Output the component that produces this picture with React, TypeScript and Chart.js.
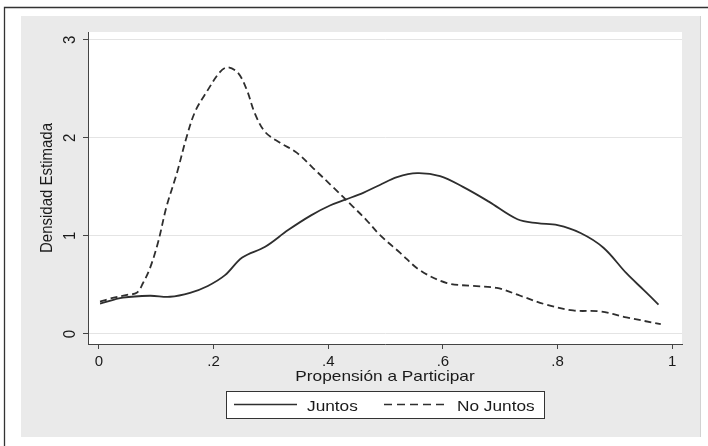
import React, { useEffect, useRef } from 'react';
import { Chart, registerables } from 'chart.js';

Chart.register(...registerables);

// ---- data ----
const juntosX = [0.002, 0.042, 0.089, 0.124, 0.159, 0.19, 0.22, 0.25, 0.29, 0.33, 0.37, 0.403, 0.43, 0.461, 0.49, 0.52, 0.555, 0.595, 0.635, 0.68, 0.73, 0.765, 0.8, 0.84, 0.88, 0.92, 0.95, 0.976];
const juntosY = [0.31, 0.37, 0.39, 0.38, 0.42, 0.49, 0.60, 0.78, 0.89, 1.06, 1.21, 1.31, 1.37, 1.44, 1.52, 1.60, 1.64, 1.61, 1.50, 1.35, 1.17, 1.13, 1.11, 1.03, 0.88, 0.62, 0.45, 0.30];
const noJuntosX = [0.002, 0.019, 0.049, 0.066, 0.077, 0.089, 0.103, 0.118, 0.136, 0.153, 0.168, 0.188, 0.211, 0.225, 0.243, 0.258, 0.272, 0.29, 0.316, 0.345, 0.374, 0.408, 0.443, 0.467, 0.49, 0.525, 0.56, 0.607, 0.653, 0.694, 0.735, 0.78, 0.827, 0.874, 0.92, 0.98];
const noJuntosY = [0.33, 0.36, 0.40, 0.42, 0.52, 0.67, 0.93, 1.30, 1.64, 2.01, 2.27, 2.47, 2.67, 2.72, 2.66, 2.49, 2.25, 2.06, 1.95, 1.85, 1.69, 1.50, 1.30, 1.16, 1.01, 0.83, 0.65, 0.52, 0.49, 0.47, 0.39, 0.30, 0.24, 0.23, 0.17, 0.10];

const xTickValues = [0, 0.2, 0.4, 0.6, 0.8, 1];
const xTickLabels = ['0', '.2', '.4', '.6', '.8', '1'];
const yTickValues = [0, 1, 2, 3];
const yTickLabels = ['0', '1', '2', '3'];
const seriesNames = ['Juntos', 'No Juntos'];
const xTitle = 'Propensión a Participar';
const yTitle = 'Densidad Estimada';

const FONT = '"Liberation Sans", Arial, sans-serif';
const INK = '#1a1a1a';
const LINE = '#2e2e2e';
const DASH = [7, 4];
const STRETCH = 1.15;

function hText(ctx: CanvasRenderingContext2D, text: string, x: number, y: number, align: CanvasTextAlign) {
  ctx.save();
  ctx.translate(x, y);
  ctx.scale(STRETCH, 1);
  ctx.textAlign = align;
  ctx.textBaseline = 'alphabetic';
  ctx.fillText(text, 0, 0);
  ctx.restore();
}

const framePlugin = {
  id: 'stataFrame',
  beforeDraw(chart: any) {
    const { ctx, chartArea: a } = chart;
    ctx.save();
    ctx.fillStyle = '#ffffff';
    ctx.fillRect(0, 0, chart.width, chart.height);
    ctx.fillStyle = '#eaeaea';
    ctx.fillRect(21, 16, 679, 421);
    ctx.strokeStyle = '#d2d2d2';
    ctx.lineWidth = 1;
    ctx.beginPath();
    ctx.moveTo(700.5, 16);
    ctx.lineTo(700.5, 437);
    ctx.stroke();
    ctx.strokeStyle = '#333';
    ctx.lineWidth = 1.3;
    ctx.beginPath();
    ctx.moveTo(4.5, 446);
    ctx.lineTo(4.5, 7.5);
    ctx.lineTo(708, 7.5);
    ctx.stroke();
    ctx.fillStyle = '#ffffff';
    ctx.fillRect(a.left, a.top, a.right - a.left, a.bottom - a.top);
    ctx.restore();
  },
  afterDraw(chart: any) {
    const { ctx, chartArea: a } = chart;
    const yScale = chart.scales.y;
    ctx.save();
    ctx.fillStyle = INK;
    ctx.font = `15px ${FONT}`;
    // rotated y tick labels
    yTickValues.forEach((v, i) => {
      const py = yScale.getPixelForValue(v);
      ctx.save();
      ctx.translate(70, py);
      ctx.rotate(-Math.PI / 2);
      ctx.scale(1, STRETCH);
      ctx.textAlign = 'center';
      ctx.textBaseline = 'middle';
      ctx.fillText(yTickLabels[i], 0, 0);
      ctx.restore();
    });
    // y title
    ctx.save();
    ctx.translate(48, (a.top + a.bottom) / 2);
    ctx.rotate(-Math.PI / 2);
    ctx.scale(1, 1.05);
    ctx.textAlign = 'center';
    ctx.textBaseline = 'middle';
    ctx.fillText(yTitle, 0, 0);
    ctx.restore();
    // x title
    const cx = (a.left + a.right) / 2;
    hText(ctx, xTitle, cx, 381, 'center');
    // legend
    const bx = cx - 159;
    const by = 391;
    ctx.fillStyle = '#ffffff';
    ctx.fillRect(bx, by, 318, 27);
    ctx.strokeStyle = '#333';
    ctx.lineWidth = 1;
    ctx.strokeRect(bx + 0.5, by + 0.5, 318, 27);
    const ly = by + 13.5;
    ctx.strokeStyle = LINE;
    ctx.lineWidth = 1.6;
    ctx.beginPath();
    ctx.moveTo(bx + 8, ly);
    ctx.lineTo(bx + 71, ly);
    ctx.stroke();
    ctx.setLineDash([8, 5]);
    ctx.beginPath();
    ctx.moveTo(bx + 158, ly);
    ctx.lineTo(bx + 222, ly);
    ctx.stroke();
    ctx.setLineDash([]);
    ctx.fillStyle = INK;
    hText(ctx, seriesNames[0], bx + 81, by + 20, 'left');
    hText(ctx, seriesNames[1], bx + 231, by + 20, 'left');
    ctx.restore();
  },
};

export default function App() {
  const canvasRef = useRef<HTMLCanvasElement | null>(null);

  useEffect(() => {
    if (!canvasRef.current) return;
    const chart = new Chart(canvasRef.current, {
      type: 'line',
      data: {
        datasets: [
          {
            label: seriesNames[0],
            data: juntosX.map((x, i) => ({ x, y: juntosY[i] })),
            borderColor: LINE,
            borderWidth: 1.8,
            pointRadius: 0,
            tension: 0.35,
            fill: false,
          },
          {
            label: seriesNames[1],
            data: noJuntosX.map((x, i) => ({ x, y: noJuntosY[i] })),
            borderColor: LINE,
            borderWidth: 1.8,
            borderDash: DASH,
            pointRadius: 0,
            tension: 0.35,
            fill: false,
          },
        ],
      },
      options: {
        animation: false,
        responsive: false,
        maintainAspectRatio: false,
        layout: { padding: { top: 32, right: 26, left: 0, bottom: 0 } },
        plugins: { legend: { display: false }, tooltip: { enabled: false } },
        scales: {
          x: {
            type: 'linear',
            min: -0.019,
            max: 1.017,
            afterBuildTicks: (s: any) => {
              s.ticks = xTickValues.map((v) => ({ value: v }));
            },
            afterFit: (s: any) => {
              s.height = 102;
            },
            ticks: {
              callback: (_v: any, i: number) => xTickLabels[i],
              font: { family: FONT, size: 15 },
              color: INK,
              padding: 4,
              maxRotation: 0,
              minRotation: 0,
              autoSkip: false,
            },
            grid: { drawOnChartArea: false, drawTicks: true, tickLength: 5, tickColor: '#444' },
            border: { display: true, color: '#444', width: 1 },
          },
          y: {
            type: 'linear',
            min: -0.102,
            max: 3.08,
            afterBuildTicks: (s: any) => {
              s.ticks = yTickValues.map((v) => ({ value: v }));
            },
            afterFit: (s: any) => {
              s.width = 88;
            },
            ticks: { display: false },
            grid: { color: '#e4e4e4', drawTicks: true, tickLength: 5, tickColor: '#444' },
            border: { display: true, color: '#444', width: 1 },
          },
        },
      },
      plugins: [framePlugin],
    } as any);
    return () => chart.destroy();
  }, []);

  return (
    <div style={{ position: 'absolute', left: 0, top: 0, width: 708, height: 446 }}>
      <canvas ref={canvasRef} width={708} height={446} />
    </div>
  );
}
